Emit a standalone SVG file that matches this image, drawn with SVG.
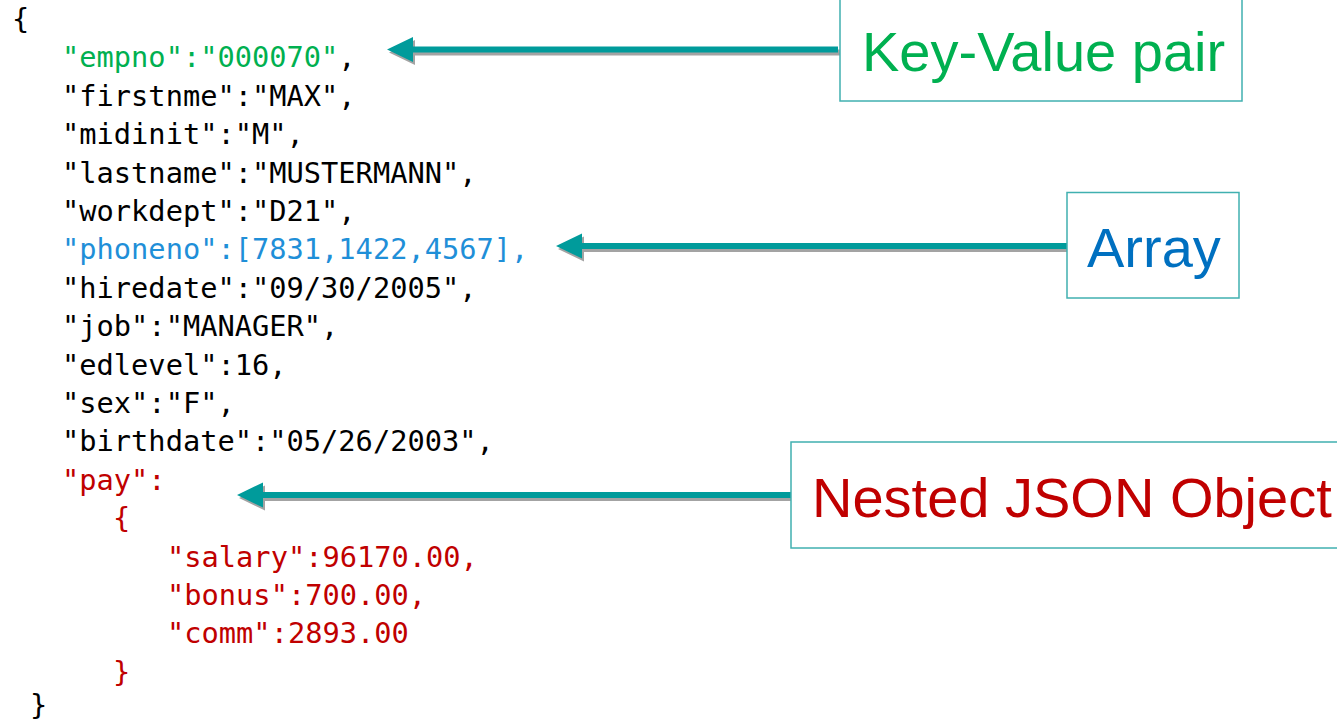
<svg xmlns="http://www.w3.org/2000/svg" width="1337" height="723" viewBox="0 0 1337 723">
<style>
.code{font-family:"DejaVu Sans Mono","Liberation Mono",monospace;font-size:28.7px;fill:#000}
.g{fill:#00b050}
.b{fill:#1f8fd8}
.r{fill:#c00000}
.box{fill:#fff;stroke:#40b0b0;stroke-width:1.5}
.lbl{font-family:"Liberation Sans",Arial,sans-serif;font-size:56px}
.shadow{fill:#a3a3a3}
.arrow{fill:#009b9b}
</style>
<rect width="1337" height="723" fill="#fff"/>
<g id="code" class="code">
<text x="12" y="29">{</text>
<text x="62" y="67.4"><tspan class="g">"empno":"000070"</tspan>,</text>
<text x="62" y="105.8">"firstnme":"MAX",</text>
<text x="62" y="144.2">"midinit":"M",</text>
<text x="62" y="182.6">"lastname":"MUSTERMANN",</text>
<text x="62" y="221">"workdept":"D21",</text>
<text x="62" y="259.4" class="b">"phoneno":[7831,1422,4567],</text>
<text x="62" y="297.8">"hiredate":"09/30/2005",</text>
<text x="62" y="336.2">"job":"MANAGER",</text>
<text x="62" y="374.6">"edlevel":16,</text>
<text x="62" y="413">"sex":"F",</text>
<text x="62" y="451.4">"birthdate":"05/26/2003",</text>
<text x="62" y="489.8" class="r">"pay":</text>
<text x="113" y="528.2" class="r">{</text>
<text x="167" y="566.6" class="r">"salary":96170.00,</text>
<text x="167" y="605" class="r">"bonus":700.00,</text>
<text x="167" y="643.4" class="r">"comm":2893.00</text>
<text x="113" y="681.8" class="r">}</text>
<text x="30" y="715">}</text>
</g>
<g id="connectors">
<g id="arrow-kv">
<polygon class="shadow" transform="translate(2,3)" points="387,49.5 413,37 413,46.5 838,46.5 838,52.5 413,52.5 413,62"/>
<polygon class="arrow" points="387,49.5 413,37 413,46.5 838,46.5 838,52.5 413,52.5 413,62"/>
</g>
<g id="arrow-array">
<polygon class="shadow" transform="translate(2,3)" points="556,246 582,233.5 582,243 1067,243 1067,249 582,249 582,258.5"/>
<polygon class="arrow" points="556,246 582,233.5 582,243 1067,243 1067,249 582,249 582,258.5"/>
</g>
<g id="arrow-nested">
<polygon class="shadow" transform="translate(2,3)" points="237,495 263,482.5 263,492 791,492 791,498 263,498 263,507.5"/>
<polygon class="arrow" points="237,495 263,482.5 263,492 791,492 791,498 263,498 263,507.5"/>
</g>
</g>
<g id="node-kv">
<rect class="box" x="840" y="-2" width="402" height="103"/>
<text class="lbl g" x="862" y="71">Key-Value pair</text>
</g>
<g id="node-array">
<rect class="box" x="1067" y="192.5" width="172" height="105.5"/>
<text class="lbl" x="1087" y="267" fill="#0070c0">Array</text>
</g>
<g id="node-nested">
<rect class="box" x="791" y="442" width="550" height="106"/>
<text class="lbl r" x="812" y="517">Nested JSON Object</text>
</g>
</svg>
